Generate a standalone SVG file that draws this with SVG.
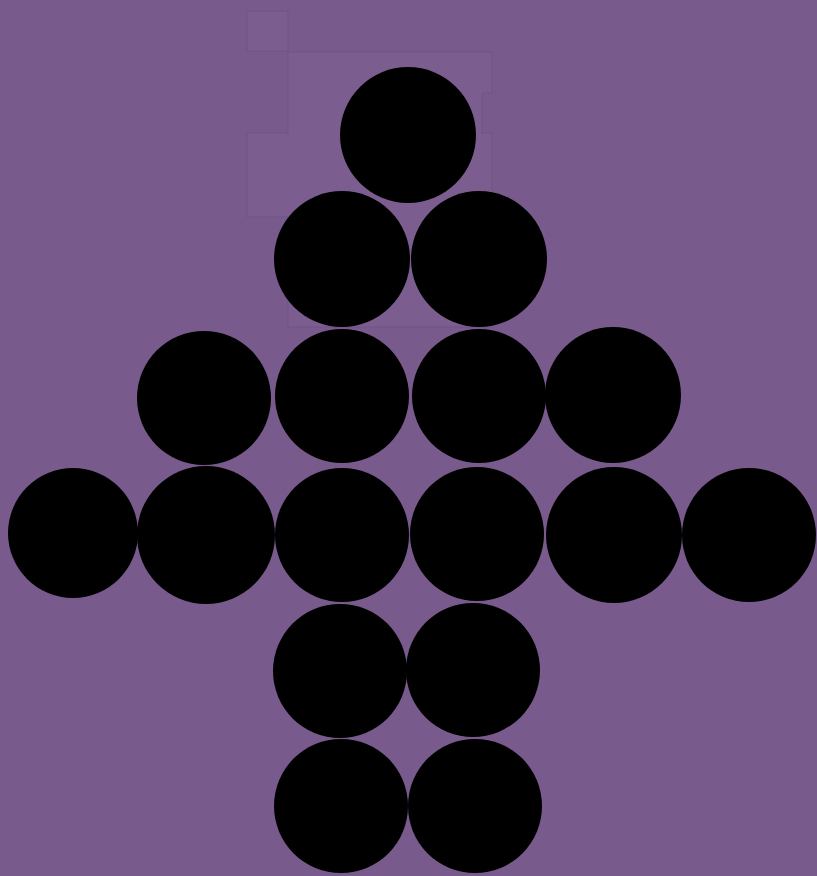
<svg xmlns="http://www.w3.org/2000/svg" width="817" height="876" viewBox="0 0 817 876">
<style>
.bg{fill:#785a8c}
.ghost{fill:#7b5d8f;stroke:#6a4c7e;stroke-width:1;stroke-opacity:0.5}
.dot{fill:#000}
</style>
<rect class="bg" x="0" y="0" width="817" height="876"/>
<g id="ghost">
<path class="ghost" d="M247,11 H288 V51 H247 Z"/>
<path class="ghost" d="M288,52 H492 V93 H482 V133 H492 V327 H288 V217 H247 V133 H288 Z"/>
</g>
<g id="connectors"></g>
<g id="n0"><circle class="dot" cx="408" cy="135" r="68"/></g>
<g id="n1"><circle class="dot" cx="342" cy="259" r="68"/></g>
<g id="n2"><circle class="dot" cx="479" cy="259" r="68"/></g>
<g id="n3"><circle class="dot" cx="204" cy="398" r="67"/></g>
<g id="n4"><circle class="dot" cx="342" cy="396" r="67"/></g>
<g id="n5"><circle class="dot" cx="479" cy="396" r="67"/></g>
<g id="n6"><circle class="dot" cx="613" cy="395" r="68"/></g>
<g id="n7"><circle class="dot" cx="73" cy="533" r="65"/></g>
<g id="n8"><circle class="dot" cx="206" cy="535" r="69"/></g>
<g id="n9"><circle class="dot" cx="342" cy="535" r="67"/></g>
<g id="n10"><circle class="dot" cx="477" cy="534" r="67"/></g>
<g id="n11"><circle class="dot" cx="614" cy="535" r="68"/></g>
<g id="n12"><circle class="dot" cx="749" cy="535" r="67"/></g>
<g id="n13"><circle class="dot" cx="340" cy="671" r="67"/></g>
<g id="n14"><circle class="dot" cx="473" cy="670" r="67"/></g>
<g id="n15"><circle class="dot" cx="341" cy="806" r="67"/></g>
<g id="n16"><circle class="dot" cx="475" cy="806" r="67"/></g>
</svg>
